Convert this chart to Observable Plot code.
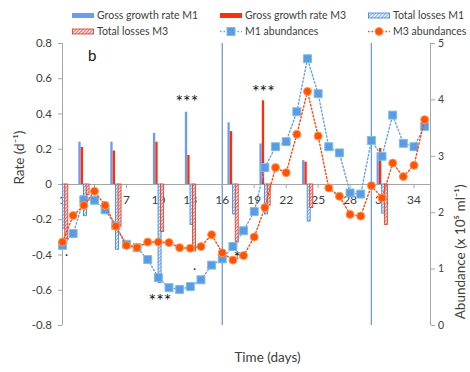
<!DOCTYPE html>
<html><head><meta charset="utf-8">
<script src="https://cdn.jsdelivr.net/npm/d3@7"></script>
<script src="https://cdn.jsdelivr.net/npm/@observablehq/plot@0.6"></script>
<style>
body{margin:0;background:#fff;font-family:Lato,"Open Sans",sans-serif;}
#legend{position:relative;width:470px;height:38px;font-size:10.5px;color:#404040;}
.item{position:absolute;display:flex;align-items:center;height:10px;white-space:nowrap;}
.item span{display:inline-block;line-height:10px;height:10px;}
.item svg{margin-right:2px;display:block}
#chart svg{overflow:visible;display:block}
</style></head><body>
<svg width="0" height="0" style="position:absolute">
<defs>
<pattern id="hB" patternUnits="userSpaceOnUse" width="2.4" height="2.4" patternTransform="rotate(45)">
<rect width="2.4" height="2.4" fill="#ffffff"/><rect width="1.2" height="2.4" fill="#7fb0ec"/></pattern>
<pattern id="hR" patternUnits="userSpaceOnUse" width="2.4" height="2.4" patternTransform="rotate(45)">
<rect width="2.4" height="2.4" fill="#ffffff"/><rect width="1.2" height="2.4" fill="#ec6a5a"/></pattern>
</defs></svg>
<div id="legend"></div>
<div id="chart"></div>
<script>
// ---- data ----
const days = [1,2,3,4,5,6,7,8,9,10,11,12,13,14,15,16,17,18,19,20,21,22,23,24,25,26,27,28,29,30,31,32,33,34,35];
const m1Abund = [1.42,1.63,2.23,2.22,2.05,1.77,1.44,1.38,1.17,0.85,0.67,0.64,0.69,0.81,1.07,1.18,1.40,1.68,2.02,2.80,3.17,3.26,3.79,4.73,4.11,3.17,3.06,2.35,2.33,3.28,3.00,3.73,3.23,3.17,3.53];
const m3Abund = [1.48,1.95,2.13,2.38,2.13,1.76,1.42,1.38,1.48,1.48,1.47,1.38,1.37,1.40,1.61,1.29,1.16,1.24,1.57,2.09,2.80,2.71,3.39,4.15,3.36,2.44,2.29,1.97,1.94,2.48,2.26,2.88,2.64,2.84,3.65];
const barDays  = [1,3,6,10,13,17,20,24,31];
const growthM1 = [null,0.24,0.24,0.29,0.41,0.35,0.23,0.135,0.18];
const growthM3 = [0.56,0.21,0.19,0.24,0.165,0.30,0.475,0.127,0.205];
const lossM1   = [-0.25,-0.18,-0.37,-0.56,-0.23,-0.17,-0.17,-0.21,-0.165];
const lossM3   = [-0.31,-0.06,-0.24,-0.27,-0.38,-0.33,-0.12,-0.134,-0.23];
const errorDays = [16,30];
const xTicks = [1,4,7,10,13,16,19,22,25,28,31,34];
const rateTicks = [-0.8,-0.6,-0.4,-0.2,0,0.2,0.4,0.6,0.8];
const abundTicks = [0,1,2,3,4,5];
const annotText = ["b","***","***","***",".",".","*"];
const annotDay  = [3.8,12.68,19.86,10.15,1.39,13.4,17.4];
const annotRate = [0.73,0.465,0.525,-0.665,-0.38,-0.46,-0.42];
const annotSize = [15,18,18,18,13,13,17];
const annotBold = ["bold","bold","bold","bold","bold","bold","bold"];

// ---- colours ----
const cM1 = "#6a9cf0", cM3 = "#ff2d0a";
const cLossM1 = "#2f7fd8", cLossM3 = "#dc3426";
const cLine1 = "#6a9fe6", cLine3 = "#ff4a10";
const cSq = "#5b9be6", cSqS = "#7cc0dc", cCi = "#ff5208", cCiS = "#ff9a50";

// ---- legend ----
const legendItems = [
  {label:"Gross growth rate M1", left:72, top:10, sw:`<rect x="0" y="3" width="22" height="5" fill="${cM1}"/>`},
  {label:"Gross growth rate M3", left:220, top:10, sw:`<rect x="0" y="3" width="22" height="5" fill="${cM3}"/>`},
  {label:"Total losses M1", left:368, top:10, sw:`<rect x="0.5" y="3" width="21" height="5" fill="url(#hB)" stroke="${cLossM1}" stroke-width="0.8"/>`},
  {label:"Total losses M3", left:72, top:26, sw:`<rect x="0.5" y="3" width="21" height="5" fill="url(#hR)" stroke="${cLossM3}" stroke-width="0.8"/>`},
  {label:"M1 abundances", left:220, top:26, sw:`<line x1="0" x2="22" y1="5.5" y2="5.5" stroke="${cLine1}" stroke-width="1.3" stroke-dasharray="1.5,2"/><rect x="7" y="1.5" width="8" height="8" fill="${cSq}" stroke="${cSqS}" stroke-width="1"/>`},
  {label:"M3 abundances", left:368, top:26, sw:`<line x1="0" x2="22" y1="5.5" y2="5.5" stroke="${cLine3}" stroke-width="1.3" stroke-dasharray="1.5,2"/><circle cx="11" cy="5.5" r="4" fill="${cCi}" stroke="${cCiS}" stroke-width="1"/>`}
];
const lg = document.getElementById("legend");
for (const it of legendItems) {
  const d = document.createElement("div");
  d.className = "item";
  d.style.left = it.left + "px"; d.style.top = it.top + "px";
  d.innerHTML = `<svg width="23" height="11">${it.sw}</svg><span>${it.label}</span>`;
  lg.appendChild(d);
}

// ---- chart ----
const xDomain = [1, 35.55];
const abToRate = d3.scaleLinear([0, 5], [-0.8, 0.8]);
const series = days.map((d, i) => ({day: d, m1: abToRate(m1Abund[i]), m3: abToRate(m3Abund[i])}));
const bars = barDays.map((d, i) => ({day: d, gM1: growthM1[i], gM3: growthM3[i], lM1: lossM1[i], lM3: lossM3[i]}));
const annots = annotText.map((t, i) => ({t, day: annotDay[i], rate: annotRate[i], size: annotSize[i], w: annotBold[i]}));

function bar(key, dx, half, opts) {
  return Plot.rect(bars.filter(b => b[key] != null), {
    x1: "day", x2: "day", y1: () => 0, y2: key, dx,
    insetLeft: -half, insetRight: -half, clip: true, ...opts
  });
}

const axisGrey = "#a6a6a6";
const chart = Plot.plot({
  width: 470, height: 334,
  marginLeft: 62, marginRight: 40, marginTop: 5, marginBottom: 47,
  style: {fontFamily: "Lato, 'Open Sans', sans-serif", color: "#404040", background: "transparent"},
  x: {domain: xDomain, axis: null},
  y: {domain: [-0.8, 0.8], axis: null},
  marks: [
    Plot.ruleX(errorDays, {stroke: "#6f9bd6", strokeWidth: 1.3}),
    Plot.ruleY([0], {stroke: axisGrey}),
    Plot.ruleX(xDomain, {stroke: axisGrey}),
    Plot.ruleX(xTicks, {y1: () => 0, y2: () => 0, insetBottom: -4, stroke: axisGrey}),
    Plot.text(xTicks, {x: d => d, y: () => 0, dy: 16, text: d => String(d), fontSize: 12, fill: "#404040"}),
    bar("gM1", -3.8, 1.15, {fill: cM1}),
    bar("gM3", -1.4, 1.15, {fill: cM3}),
    bar("lM1", 1.7, 1.5, {fill: "url(#hB)", stroke: cLossM1, strokeWidth: 0.8}),
    bar("lM3", 4.3, 1.5, {fill: "url(#hR)", stroke: cLossM3, strokeWidth: 0.8}),
    Plot.line(series, {x: "day", y: "m1", stroke: cLine1, strokeWidth: 1.4, strokeDasharray: "1.5,2.2"}),
    Plot.dot(series, {x: "day", y: "m1", symbol: "square", r: 4.5, fill: cSq, stroke: cSqS, strokeWidth: 1}),
    Plot.line(series, {x: "day", y: "m3", stroke: cLine3, strokeWidth: 1.4, strokeDasharray: "1.5,2.2"}),
    Plot.dot(series, {x: "day", y: "m3", r: 4, fill: cCi, stroke: cCiS, strokeWidth: 1}),
    Plot.axisY({anchor: "left", ticks: rateTicks, tickSize: 4, tickPadding: 6.5, stroke: axisGrey, fill: "#404040", fontSize: 11.5,
      tickFormat: d => Math.abs(d) < 1e-9 ? "0" : d.toFixed(1), label: null}),
    Plot.axisY({anchor: "right", ticks: abundTicks.map(abToRate), tickSize: 4, tickPadding: 3.5, stroke: axisGrey, fill: "#404040", fontSize: 10.5,
      tickFormat: d => String(Math.round(abToRate.invert(d))), label: null}),
    Plot.text(annots, {x: "day", y: "rate", text: "t", fontSize: "size", fontWeight: "w", fill: "#111"}),
    Plot.text(["Rate (d⁻¹)"], {frameAnchor: "left", dx: -43, rotate: -90, fontSize: 13.5, fill: "#404040"}),
    Plot.text(["Abundance (x 10⁵ ml⁻¹)"], {frameAnchor: "right", dx: 30, rotate: -90, fontSize: 13.5, fill: "#404040"}),
    Plot.text(["Time (days)"], {frameAnchor: "bottom", dx: 21, dy: 36, fontSize: 13.5, fill: "#404040"})
  ]
});
document.getElementById("chart").appendChild(chart);
</script>
</body></html>
